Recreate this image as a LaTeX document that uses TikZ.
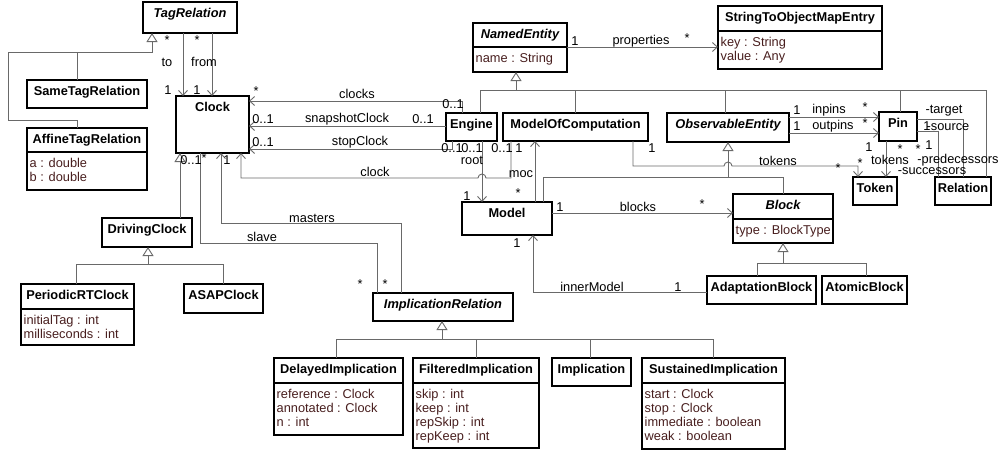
\documentclass[tikz,border=0pt]{standalone}
\usepackage{fontspec}
\setmainfont{Liberation Sans}
\usetikzlibrary{arrows.meta}
\definecolor{linegray}{RGB}{105,105,105}
\definecolor{attrbrown}{RGB}{72,30,30}

\tikzset{
  clsbox/.style={draw=black, line width=1.1pt, anchor=north west, inner sep=0pt, outer sep=0pt},
  clstitle/.style={anchor=base, inner sep=0pt, font=\fontsize{12.8}{15}\selectfont\bfseries},
  abstitle/.style={clstitle, font=\fontsize{12.8}{15}\selectfont\bfseries\itshape},
  attr/.style={anchor=base west, inner sep=0pt, text=attrbrown, font=\fontsize{12.8}{15}\selectfont},
  lbl/.style={inner sep=0pt, font=\fontsize{12.8}{15}\selectfont},
  conn/.style={draw=linegray, line width=0.9pt},
  assoc/.style={conn, -{Straight Barb[length=5pt,width=9pt]}},
  gen/.style={conn, -{Triangle[open,length=9pt,width=11pt]}},
  sepline/.style={draw=black, line width=1.1pt},
}

% class box: [title style] name, x, y (top left), width, height, title
\newcommand\umlclass[7][clstitle]{%
  \node[clsbox, minimum width=#5pt, minimum height=#6pt] (#2) at (#3,#4) {};
  \node[#1] (#2-title) at ([yshift=-15.5pt]#2.north) {#7};
}
% attribute compartment: box name, separator offset from top, list of lines
\newcommand\umlattrs[3]{%
  \draw[sepline] ([yshift=-#2pt]#1.north west) -- ([yshift=-#2pt]#1.north east);
  \foreach \a [count=\i] in {#3}
    \node[attr] (#1-attr\i) at ([xshift=2.5pt,yshift={-(#2+15.5+(\i-1)*14)}]#1.north west) {\a};
}
% connector label
\newcommand\lbl[4]{\node[lbl] (#1) at (#2,#3) {#4};}

\begin{document}
\begin{tikzpicture}[x=1pt,y=-1pt]
\useasboundingbox (0,0) rectangle (1000,451);

% ---- classes ----
\umlclass[abstitle]{TagRel}{143}{2}{94}{31}{TagRelation}
\umlclass{SameTag}{27}{80}{120}{28}{SameTagRelation}
\umlclass{Affine}{27}{128}{120}{62}{AffineTagRelation}
\umlattrs{Affine}{24}{a : double, b : double}
\umlclass{Clock}{176}{96}{73}{57}{Clock}
\umlclass{DC}{102}{218}{90}{29}{DrivingClock}
\umlclass{PRT}{21}{284}{113}{61}{PeriodicRTClock}
\umlattrs{PRT}{25}{initialTag : int, milliseconds : int}
\umlclass{ASAP}{184}{284}{79}{29}{ASAPClock}
\umlclass[abstitle]{NE}{473}{23}{94}{49}{NamedEntity}
\umlattrs{NE}{24}{name : String}
\umlclass{SOME}{718}{6}{164}{63}{StringToObjectMapEntry}
\umlattrs{SOME}{25}{key : String, value : Any}
\umlclass{Engine}{446}{113}{51}{28}{Engine}
\umlclass{MoC}{503}{113}{145}{28}{ModelOfComputation}
\umlclass[abstitle]{OE}{667}{113}{122}{29}{ObservableEntity}
\umlclass{Pin}{879}{112}{38}{29}{Pin}
\umlclass{Token}{853}{177}{44}{28}{Token}
\umlclass{Relation}{935}{177}{56}{28}{Relation}
\umlclass{Model}{462}{202}{90}{33}{Model}
\umlclass[abstitle]{Block}{733}{194}{100}{49}{Block}
\umlattrs{Block}{25}{type : BlockType}
\umlclass{Adapt}{707}{276}{109}{28}{AdaptationBlock}
\umlclass{Atomic}{822}{276}{85}{28}{AtomicBlock}
\umlclass[abstitle]{IR}{373}{293}{140}{28}{ImplicationRelation}
\umlclass{DI}{274}{358}{129}{77}{DelayedImplication}
\umlattrs{DI}{25}{reference : Clock, annotated : Clock, n : int}
\umlclass{FI}{413}{358}{126}{90}{FilteredImplication}
\umlattrs{FI}{25}{skip : int, keep : int, repSkip : int, repKeep : int}
\umlclass{Impl}{552}{358}{79}{28}{Implication}
\umlclass{SI}{642}{358}{143}{91}{SustainedImplication}
\umlattrs{SI}{25}{start : Clock, stop : Clock, immediate : boolean, weak : boolean}

% ---- generalizations ----
\draw[gen] ([xshift=-10pt]SameTag.north) -- ++(0,-28) -| ([xshift=9pt]TagRel.south west);
\draw[conn] ([xshift=-10pt]Affine.north) -- ++(0,-8) -- ++(-69,0) -- ++(0,-68) -- ++(69,0);

\draw[gen] ([xshift=78pt]DC.north west) -- ([xshift=4pt]Clock.south west);
\draw[gen] ([xshift=55pt]PRT.north west) -- ++(0,-20) -| ([xshift=46pt]DC.south west);
\draw[conn] ([xshift=39pt]ASAP.north west) -- ++(0,-20) -- ++(-75,0);

\draw[gen] ([xshift=34pt]Engine.north west) -- ++(0,-23) -| ([xshift=43pt]NE.south west);
\draw[conn] ([xshift=51pt]Relation.north west) -- ++(0,-87) -- ++(-470,0);
\draw[conn] ([xshift=72pt]MoC.north west) -- ++(0,-23);
\draw[conn] ([xshift=58pt]OE.north west) -- ++(0,-23);
\draw[conn] ([xshift=21pt]Pin.north west) -- ++(0,-22);

\draw[gen] ([xshift=81pt]Model.north west) -- ++(0,-25) -| ([xshift=61pt]OE.south west);
\draw[conn] (Block.north) -- ++(0,-17) -- ++(-55,0);

\draw[gen] ([xshift=50pt]Adapt.north west) -- ++(0,-13) -| (Block.south);
\draw[conn] ([xshift=44pt]Atomic.north west) -- ++(0,-13) -- ++(-83,0);

\draw[gen] ([xshift=62pt]DI.north west) -- ++(0,-19) -| ([xshift=69pt]IR.south west);
\draw[conn] ([xshift=71pt]SI.north west) -- ++(0,-19) -- ++(-271,0);
\draw[conn] ([xshift=63pt]FI.north west) -- ++(0,-19);
\draw[conn] ([xshift=38pt]Impl.north west) -- ++(0,-19);

% ---- associations ----
\draw[assoc] ([xshift=40pt]TagRel.south west) -- ([xshift=7pt]Clock.north west);
\draw[assoc] ([xshift=69pt]TagRel.south west) -- ([xshift=36pt]Clock.north west);

\draw[assoc] ([xshift=16pt]Engine.north west) |- ([yshift=-5pt]Clock.north east);
\draw[assoc] ([yshift=-13pt]Engine.north west) -- ([yshift=-30pt]Clock.north east);
\draw[assoc] ([xshift=6pt]Engine.south west) |- ([yshift=4pt]Clock.south east);
\draw[assoc] ([xshift=36pt]Engine.south west) -- ([xshift=20pt]Model.north west);
\draw[assoc] ([xshift=8pt]MoC.south west) -- ++(0,37) -- ++(-25,0)
  arc[start angle=0, end angle=180, radius=4pt] -| ([xshift=-8pt]Clock.south east);
\draw[assoc] ([xshift=73pt]Model.north west) -- ([xshift=32pt]MoC.south west);
\draw[assoc] ([xshift=-15pt]MoC.south east) -- ++(0,25) -- ++(91,0)
  arc[start angle=180, end angle=0, radius=4pt] -| ([xshift=5pt]Token.north west);

\draw[conn] ([xshift=4pt]IR.north west) -- ++(0,-50) -| ([xshift=24pt]Clock.south west);
\draw[assoc] ([xshift=28pt]IR.north west) -- ++(0,-70) -| ([xshift=45pt]Clock.south west);

\draw[assoc] ([yshift=-24pt]NE.north east) -- ([yshift=-41pt]SOME.north west);
\draw[assoc] ([yshift=-4pt]OE.north east) -- ([yshift=-5pt]Pin.north west);
\draw[assoc] ([yshift=-20pt]OE.north east) -- ([yshift=-21pt]Pin.north west);
\draw[assoc] ([xshift=7pt]Pin.south west) -- ([xshift=33pt]Token.north west);
\draw[conn] ([yshift=-7pt]Pin.north east) -| ([xshift=28pt]Relation.north west);
\draw[conn] ([yshift=-19pt]Pin.north east) -| ([xshift=3pt]Relation.north west);

\draw[assoc] ([yshift=-11pt]Model.north east) -- ([yshift=-19pt]Block.north west);
\draw[assoc] ([yshift=-16pt]Adapt.north west) -| ([xshift=71pt]Model.south west);

% ---- association labels ----
\lbl{ta}{167}{40}{*}   \lbl{tb}{167}{62}{to}   \lbl{tc}{168}{90}{1}
\lbl{fa}{197}{40}{*}   \lbl{fb}{204}{62}{from} \lbl{fc}{197}{90}{1}

\lbl{ca}{256}{91}{*}   \lbl{cb}{357}{94}{clocks}        \lbl{cc}{453}{104}{0..1}
\lbl{sa}{263}{119}{0..1} \lbl{sb}{347}{119}{snapshotClock} \lbl{sc}{423}{119}{0..1}
\lbl{pa}{263}{142}{0..1} \lbl{pb}{360}{142}{stopClock}     \lbl{pc}{452}{148}{0..1}
\lbl{ra}{472}{148}{0..1} \lbl{rb}{472}{160}{root}          \lbl{rc}{467}{196}{1}
\lbl{ka}{375}{172}{clock} \lbl{kb}{502}{148}{0..1}
\lbl{ma}{519}{148}{1}  \lbl{mb}{521}{174}{moc}  \lbl{mc}{518}{193}{*}
\lbl{oa}{652}{148}{1}  \lbl{ob}{778}{161}{tokens} \lbl{oc}{838}{168}{*} \lbl{od}{860}{163}{*}

\lbl{ba}{191}{160}{0..1} \lbl{bb}{204}{158}{*} \lbl{bc}{227}{160}{1}
\lbl{msa}{312}{218}{masters} \lbl{sla}{262}{237}{slave}
\lbl{ia}{360}{284}{*} \lbl{ib}{385}{284}{*}

\lbl{pra}{575}{41}{1} \lbl{prb}{641}{41}{properties} \lbl{prc}{687}{38}{*}
\lbl{ina}{797}{110}{1} \lbl{inb}{829}{110}{inpins} \lbl{inc}{865}{107}{*}
\lbl{oua}{797}{126}{1} \lbl{oub}{833}{126}{outpins} \lbl{ouc}{865}{123}{*}

\lbl{bla}{560}{207}{1} \lbl{blb}{638}{207}{blocks} \lbl{blc}{702}{204}{*}
\lbl{ima}{592}{287}{innerModel} \lbl{imb}{678}{287}{1} \lbl{imc}{517}{243}{1}

\lbl{pta}{944}{111}{-target} \lbl{psa}{948}{127}{-source} \lbl{psb}{927}{126}{1}
\lbl{pxa}{929}{145}{1} \lbl{pxb}{900}{149}{*} \lbl{pxc}{918}{149}{*}
\lbl{pka}{869}{147}{1} \lbl{pkb}{890}{160}{tokens}
\lbl{ppa}{958}{160}{-predecessors} \lbl{ppb}{932}{171}{-successors}
\end{tikzpicture}
\end{document}
